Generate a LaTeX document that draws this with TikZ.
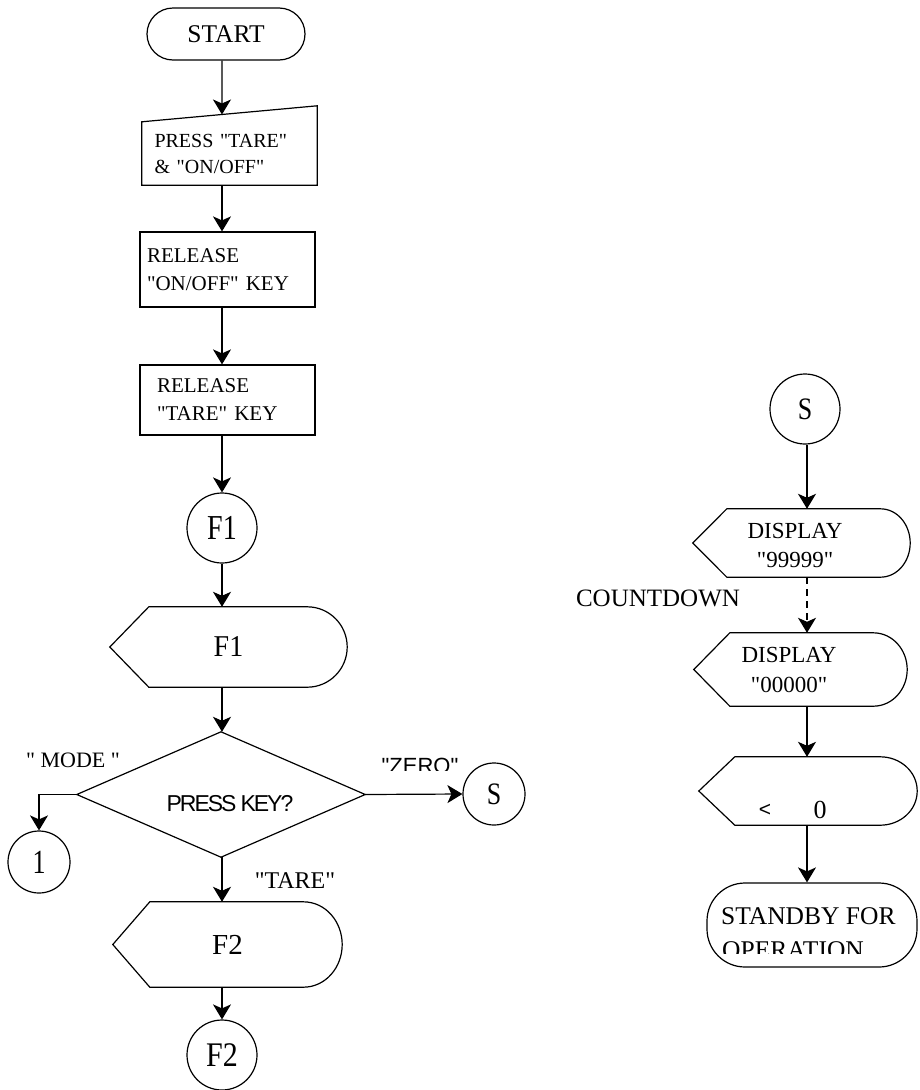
\documentclass[tikz,border=0pt]{standalone}
\usepackage{graphicx}
\usepackage{fontspec}
\setmainfont{Liberation Serif}[Ligatures=TeXOff]
\setsansfont{Liberation Sans}[Ligatures=TeXOff]
\usetikzlibrary{arrows.meta,calc}
\newcommand\setfs[2]{\fontsize{#1}{#2}\selectfont}
\newcommand\tallx[2]{\scalebox{1}[#1]{#2}}
\tikzset{
  lw/.style={line width=1.2pt},
  arr/.style={lw, -{Stealth[length=15pt,width=18pt,inset=4pt]}},
  terminal/.style={rectangle, draw, lw, rounded corners=#1, inner sep=0pt},
  stepbox/.style={rectangle, draw, lw, inner ysep=0pt, align=left},
  conn/.style={circle, draw, lw, inner sep=0pt, minimum size=#1},
  % manual input: rectangle with the top edge rising to the right
  manual/.style={rectangle, inner ysep=0pt, align=left,
    append after command={\pgfextra{
      \draw[lw] (\tikzlastnode.south west) -- (\tikzlastnode.north west)
        -- ($(\tikzlastnode.north east)+(0,#1)$) -- (\tikzlastnode.south east) -- cycle;}}},
  % display: pointed left end, rounded right end
  display/.style 2 args={rectangle, inner sep=0pt,
    append after command={\pgfextra{
      \draw[lw] ($(\tikzlastnode.north west)+(#1,0)$) -- (\tikzlastnode.west)
        -- ($(\tikzlastnode.south west)+(#1,0)$)
        -- ($(\tikzlastnode.south east)+(-#2,0)$) to[out=0,in=-90] (\tikzlastnode.east)
        to[out=90,in=0] ($(\tikzlastnode.north east)+(-#2,0)$) -- cycle;}}},
  decision/.style={rectangle, inner sep=0pt,
    append after command={\pgfextra{
      \draw[lw] (\tikzlastnode.west) -- (\tikzlastnode.north) -- (\tikzlastnode.east)
        -- (\tikzlastnode.south) -- cycle;}}},
  plain/.style={inner sep=0pt},
}
\begin{document}
\begin{tikzpicture}[x=1pt,y=1pt]
\path[fill=white, use as bounding box] (0,0) rectangle (919,-1090);

\coordinate (colL) at (222,0);
\coordinate (colR) at (807,0);

% ---------- left column ----------
\node[terminal=26pt, minimum width=158pt, minimum height=52pt, font=\setfs{25.5}{28}]
  (start) at (226,-34) {START};

\node[manual=16, minimum width=175pt, minimum height=63pt, text width=150pt,
  inner xsep=12.5pt, font=\setfs{20}{26}]
  (press) at (229.5,-153.5) {PRESS "TARE"\\\& "ON/OFF"};
\path (press.north west) -- ($(press.north east)+(0,16)$) coordinate[pos=0.457] (pin);

\node[stepbox, minimum width=175pt, minimum height=75pt, text width=161pt,
  inner xsep=7pt, font=\setfs{21}{28}]
  (rel1) at (227.5,-269.5) {RELEASE\\"ON/OFF" KEY};

\node[stepbox, minimum width=175pt, minimum height=70pt, text width=141pt,
  inner xsep=17pt, font=\setfs{21}{28}]
  (rel2) at (227.5,-400) {RELEASE\\"TARE" KEY};

\node[conn=70pt, font=\setfs{28}{30}] (f1c) at (222,-528) {\tallx{1.25}{F1}};

\node[display={39}{40}, minimum width=237pt, minimum height=80pt, font=\setfs{28}{30}]
  (f1d) at (228.5,-647) {\tallx{1.08}{F1}};

\node[decision, minimum width=288pt, minimum height=125pt] (key) at (221,-794.5) {};
\node[plain, font=\sffamily\addfontfeature{LetterSpace=-9}\setfs{23}{24}]
  (keytext) at (230,-804) {PRESS KEY?};

\node[plain, font=\setfs{22}{24}] (mode) at (73,-760) {" MODE "};
\node[conn=62pt, font=\setfs{26}{28}] (c1) at (39,-862) {\tallx{1.3}{1}};

\begin{scope}
  \clip (360,-740) rectangle (480,-770);
  \node[plain, anchor=base, font=\sffamily\setfs{22}{24}] (zero) at (420,-773) {"ZERO"};
\end{scope}
\node[conn=62pt, font=\setfs{26}{28}] (s1) at (494,-794) {\tallx{1.2}{S}};

\node[plain, font=\setfs{24}{26}] (tare) at (295,-881) {"TARE"};

\node[display={37}{39}, minimum width=229pt, minimum height=85pt, font=\setfs{29}{30}]
  (f2d) at (227.5,-944.5) {F2};

\node[conn=70pt, font=\setfs{30}{32}] (f2c) at (222,-1055) {\tallx{1.15}{F2}};

% ---------- right column ----------
\node[conn=70pt, font=\setfs{26}{28}] (s2) at (805,-409) {\tallx{1.2}{S}};

\node[display={34}{30}, minimum width=217pt, minimum height=68pt] (d1) at (801.5,-543) {};
\node[plain, align=center, font=\setfs{23}{29}] (d1t) at (795,-545) {DISPLAY\\"99999"};

\node[plain, font=\setfs{25}{28}] (countdown) at (658,-598) {COUNTDOWN};

\node[display={36}{34}, minimum width=213pt, minimum height=73pt] (d2) at (800.5,-669.5) {};
\node[plain, align=center, font=\setfs{23}{30}] (d2t) at (789,-670) {DISPLAY\\"00000"};

\node[display={36}{37}, minimum width=218pt, minimum height=68pt] (d3) at (808,-791) {};
\node[plain, font=\sffamily\setfs{21}{22}] (lt) at (765,-810) {<};
\node[plain, font=\setfs{26}{28}] (zt) at (820,-810) {0};

\node[terminal=38pt, minimum width=210pt, minimum height=84pt] (standby) at (812,-925) {};
\node[plain, anchor=base west, font=\setfs{25.5}{28}] (sb1) at (721,-924) {STANDBY FOR};
\begin{scope}
  \clip (700,-930) rectangle (919,-953);
  \node[plain, anchor=base west, font=\setfs{25.5}{28}] (sb2) at (722,-958) {OPERATION};
\end{scope}

% ---------- connectors ----------
\draw[arr] (start.south -| colL) -- (pin);
\draw[arr] (press.south -| colL) -- (rel1.north -| colL);
\draw[arr] (rel1.south -| colL) -- (rel2.north -| colL);
\draw[arr] (rel2.south -| colL) -- (f1c.north);
\draw[arr] (f1c.south) -- (f1d.north -| colL);
\draw[arr] (f1d.south -| colL) -- (key.north -| colL);
\draw[arr] (key.west) -| (c1.north);
\draw[arr] (key.east) -- (s1.west);
\draw[arr] (key.south -| colL) -- (f2d.north -| colL);
\draw[arr] (f2d.south -| colL) -- (f2c.north);

\draw[arr] (s2.south -| colR) -- (d1.north -| colR);
\draw[arr, dash pattern=on 7pt off 5pt] (d1.south -| colR) -- (d2.north -| colR);
\draw[arr] (d2.south -| colR) -- (d3.north -| colR);
\draw[arr] (d3.south -| colR) -- (standby.north -| colR);
\end{tikzpicture}
\end{document}
